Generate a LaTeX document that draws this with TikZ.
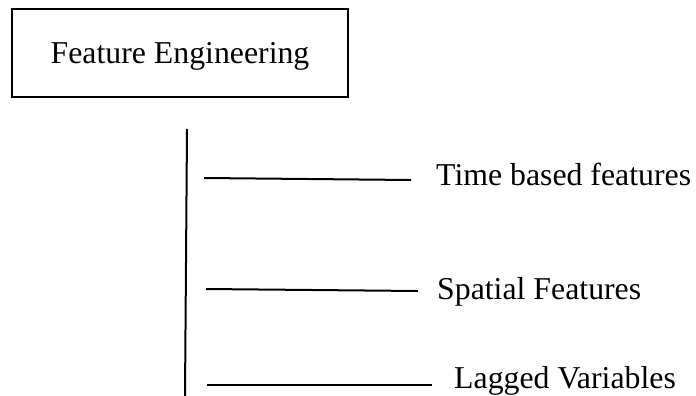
\documentclass[tikz,border=0pt]{standalone}
\usepackage{fontspec}
\setmainfont{Liberation Serif}
\begin{document}
\begin{tikzpicture}[x=1pt,y=-1pt,
  every node/.style={font=\fontsize{31.8}{36}\selectfont},
  titlebox/.style={draw, line width=2pt, minimum width=336pt, minimum height=88pt, inner sep=0pt, text depth=0pt},
  branch/.style={line width=2pt},
  leaf/.style={anchor=base west, inner sep=0pt}]
\useasboundingbox (0,0) rectangle (696,396);
% heading box
\node[titlebox] (fe) at (180,53) {Feature Engineering};
% trunk
\coordinate (ttop) at (187,129);
\coordinate (tbot) at (185,396);
\draw[branch] (ttop) -- (tbot);
% branches
\coordinate (b1s) at (204,178);
\coordinate (b1e) at (411,180);
\coordinate (b2s) at (206,289);
\coordinate (b2e) at (418,291);
\coordinate (b3s) at (207,385);
\coordinate (b3e) at (432,385);
\draw[branch] (b1s) -- (b1e);
\draw[branch] (b2s) -- (b2e);
\draw[branch] (b3s) -- (b3e);
% labels
\node[leaf] (l1) at (436,185) {Time based features};
\node[leaf] (l2) at (437,299) {Spatial Features};
\node[leaf] (l3) at (454,388) {Lagged Variables};
\end{tikzpicture}
\end{document}
